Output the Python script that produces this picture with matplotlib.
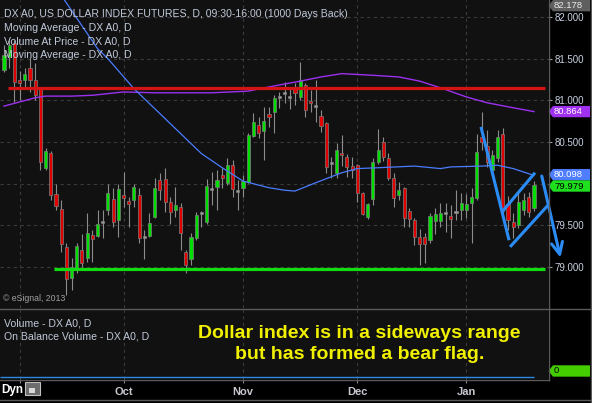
import numpy as np
import matplotlib
matplotlib.use("Agg")
import matplotlib.pyplot as plt
from matplotlib.lines import Line2D
from matplotlib.patches import Polygon, Rectangle
from matplotlib.ticker import FormatStrFormatter
from matplotlib.transforms import blended_transform_factory

plt.rcParams['font.family'] = ['Liberation Sans', 'DejaVu Sans']

############
# DX A0 daily candles, one entry per trading day
opens = [81.36, 81.52, 81.69, 81.24, 81.24, 81.39, 81.24, 81.15, 80.19, 80.37,
         79.87, 79.70, 79.24, 78.87, 78.98, 79.20, 79.11, 79.38, 79.37, 79.54,
         79.68, 79.81, 79.56, 79.86, 79.79, 79.80, 79.86, 79.36, 79.37, 79.60,
         80.04, 80.05, 79.78, 79.68, 79.72, 79.18, 79.09, 79.35, 79.65, 79.54,
         79.93, 79.96, 80.10, 80.01, 80.22, 79.91, 79.95, 80.02, 80.57, 80.70,
         80.63, 80.84, 80.86, 81.04, 81.09, 81.04, 81.15, 81.04, 81.18, 80.99,
         80.93, 80.81, 80.73, 80.25, 80.13, 80.37, 80.32, 80.21, 80.22, 79.89,
         79.60, 79.81, 80.26, 80.50, 80.31, 80.07, 79.86, 79.95, 79.67, 79.56,
         79.36, 79.36, 79.32, 79.55, 79.55, 79.65, 79.61, 79.66, 79.68, 79.68,
         79.77, 79.83, 80.56, 80.45, 80.16, 80.31, 80.60, 79.75, 79.54, 79.50,
         79.68, 79.84, 79.71]
highs = [81.66, 81.72, 81.72, 81.35, 81.39, 81.52, 81.45, 81.15, 80.43, 80.39,
         80.00, 79.80, 79.29, 79.11, 79.29, 79.40, 79.65, 79.44, 79.68, 79.68,
         80.00, 79.95, 79.99, 80.14, 79.84, 79.99, 79.95, 79.44, 79.65, 80.07,
         80.13, 80.19, 79.84, 79.96, 79.77, 79.20, 79.41, 79.66, 79.67, 80.06,
         80.14, 80.16, 80.19, 80.31, 80.28, 80.04, 80.10, 80.61, 80.85, 80.80,
         80.92, 80.92, 81.06, 81.10, 81.22, 81.16, 81.21, 81.46, 81.21, 81.12,
         81.24, 80.88, 80.74, 80.32, 80.49, 80.58, 80.36, 80.32, 80.24, 79.90,
         79.77, 80.31, 80.66, 80.56, 80.37, 80.13, 80.02, 79.96, 79.71, 79.59,
         79.45, 79.41, 79.65, 79.71, 79.77, 79.77, 79.74, 79.92, 79.89, 79.87,
         79.95, 80.60, 80.86, 80.64, 80.40, 80.64, 80.67, 79.85, 79.65, 79.90,
         79.89, 79.90, 80.03]
lows = [81.34, 81.39, 80.98, 81.00, 81.15, 81.10, 81.00, 80.16, 80.16, 79.80,
        79.68, 79.18, 78.66, 78.72, 78.93, 79.00, 79.06, 79.06, 79.36, 79.35,
        79.62, 79.48, 79.36, 79.72, 79.48, 79.72, 79.29, 79.09, 79.36, 79.59,
        79.80, 79.66, 79.51, 79.60, 79.20, 78.93, 79.02, 79.32, 79.48, 79.51,
        79.74, 79.68, 79.95, 79.98, 79.84, 79.68, 79.84, 80.01, 80.56, 80.55,
        80.28, 80.68, 80.61, 80.91, 80.97, 80.90, 80.94, 81.00, 80.80, 80.86,
        80.74, 80.62, 80.13, 80.07, 80.07, 80.21, 80.08, 80.07, 79.78, 79.62,
        79.57, 79.74, 80.24, 80.27, 80.04, 79.72, 79.80, 79.48, 79.48, 79.26,
        79.02, 79.05, 79.29, 79.40, 79.48, 79.42, 79.35, 79.56, 79.56, 79.59,
        79.29, 79.80, 80.40, 80.20, 80.14, 80.26, 79.63, 79.44, 79.35, 79.47,
        79.62, 79.60, 79.67]
closes = [81.54, 81.66, 81.22, 81.21, 81.32, 81.24, 81.06, 80.26, 80.39, 79.86,
          79.73, 79.28, 78.85, 79.00, 79.25, 79.05, 79.41, 79.33, 79.51, 79.54,
          79.89, 79.54, 79.93, 79.83, 79.75, 79.96, 79.35, 79.36, 79.53, 79.95,
          79.92, 79.78, 79.66, 79.74, 79.41, 79.02, 79.36, 79.62, 79.65, 79.97,
          79.93, 80.04, 80.07, 80.22, 79.93, 79.91, 80.03, 80.58, 80.74, 80.61,
          80.75, 80.80, 81.03, 81.04, 81.09, 81.04, 81.09, 81.24, 80.88, 80.97,
          80.93, 80.69, 80.20, 80.25, 80.40, 80.34, 80.20, 80.16, 79.89, 79.64,
          79.76, 80.26, 80.40, 80.32, 80.07, 79.83, 79.92, 79.59, 79.57, 79.36,
          79.27, 79.27, 79.61, 79.64, 79.65, 79.65, 79.57, 79.66, 79.77, 79.76,
          79.84, 80.38, 80.50, 80.26, 80.34, 80.56, 79.67, 79.56, 79.48, 79.78,
          79.80, 79.66, 79.979]

# first trading day of each month (index) and axis labels
month_idx = [3, 23, 46, 68, 89]
month_lbl = ['', 'Oct', 'Nov', 'Dec', 'Jan']

# the two moving averages, read at a handful of days
ma_slow_idx = [0, 3, 6, 8, 13, 17, 23, 29, 35, 40, 47, 51, 57, 61, 65, 71, 76, 80, 84, 89, 93, 98, 102]
ma_slow_val = [80.93, 80.98, 81.03, 81.05, 81.05, 81.06, 81.10, 81.09, 81.09, 81.09, 81.11, 81.16,
               81.23, 81.28, 81.32, 81.30, 81.28, 81.23, 81.15, 81.04, 80.97, 80.91, 80.864]
ma_fast_idx = [10, 12, 18, 20, 25, 29, 34, 38, 42, 46, 51, 54, 56, 60, 65, 68, 72, 79, 84, 86, 92, 95, 98, 102]
ma_fast_val = [82.35, 82.17, 81.62, 81.50, 81.14, 80.90, 80.60, 80.36, 80.19, 80.03, 79.95, 79.92,
               79.91, 80.01, 80.13, 80.18, 80.19, 80.21, 80.18, 80.20, 80.21, 80.22, 80.18, 80.098]

# drawn support / resistance
resistance = 81.144
support = 78.975

# bear flag sketch
pole_idx, pole_val = [91.8, 97.2], [80.68, 79.32]
flag_top_idx, flag_top_val = [96.0, 102.2], [79.67, 80.13]
flag_bot_idx, flag_bot_val = [97.4, 104.7], [79.24, 79.74]
arrow_from = (103.5, 80.09)
arrow_to = (107.1, 79.11)

price_ticks = [79.0, 79.5, 80.0, 80.5, 81.0, 81.5, 82.0]
last_high = 82.178
obv_last = 0
############

W, H = 592, 403


def fx(px):
    return px / W


def fy(py):
    return 1 - py / H


fig = plt.figure(figsize=(W / 100, H / 100), dpi=100, facecolor='black')
ax = fig.add_axes([0, fy(308), fx(548), 308 / H])
ax2 = fig.add_axes([0, fy(379), fx(548), 71 / H])

grid_kw = dict(color='#3a3a3a', ls=(0, (3, 3)), lw=0.8)
for a in (ax, ax2):
    a.set_facecolor('#111111')
    for s in a.spines.values():
        s.set_visible(False)
    a.set_xlim(-0.77, 104.7)
    a.set_xticks(month_idx)
    a.grid(True, axis='x', **grid_kw)
    a.set_axisbelow(True)

# candles
idx = np.arange(len(opens))
o, h, l, c = (np.array(v) for v in (opens, highs, lows, closes))
col = np.where(c > o, '#00dd00', np.where(c < o, '#e00000', '#a0a0a0'))
body_h = np.maximum(np.abs(c - o), 0.025)
body_lo = (o + c) / 2 - body_h / 2
ax.vlines(idx, l, h, color='#8c8c8c', lw=0.8, zorder=2)
ax.bar(idx, body_h, bottom=body_lo, width=0.6, color=col, edgecolor='#7d7d7d', lw=0.5, zorder=3)

ax.plot(ma_slow_idx, ma_slow_val, color='#9b30f0', lw=1.0, zorder=4)
ax.plot(ma_fast_idx, ma_fast_val, color='#4a7cff', lw=0.9, zorder=4)

ax.hlines(resistance, 0.8, 104.1, color='#d41414', lw=2.3, zorder=5)
ax.hlines(support, 9.6, 104.1, color='#10dd10', lw=2.3, zorder=5)

flag_col = '#2b8cf5'
for xs, ys in ((pole_idx, pole_val), (flag_top_idx, flag_top_val), (flag_bot_idx, flag_bot_val)):
    ax.plot(xs, ys, color=flag_col, lw=2.2, clip_on=False, solid_capstyle='butt', zorder=6)
ax.annotate('', xy=arrow_to, xytext=arrow_from, annotation_clip=False, zorder=6,
            arrowprops=dict(arrowstyle='->,head_length=0.85,head_width=0.4', color=flag_col,
                            lw=2.2, shrinkA=0, shrinkB=0, clip_on=False))

ax.set_ylim(78.506, 82.204)
ax.grid(True, axis='y', **grid_kw)
ax.yaxis.tick_right()
ax.set_yticks(price_ticks)
ax.yaxis.set_major_formatter(FormatStrFormatter('%.3f'))
ax.tick_params(axis='y', length=3, width=0.8, color='#9a9a9a', pad=1.5, labelsize=7, labelcolor='#c8d0e0')
ax.tick_params(axis='x', length=0, labelbottom=False)

# lower panel (on balance volume)
ax2.set_ylim(-0.03, 1)
ax2.set_yticks([])
ax2.hlines(obv_last, -0.77, idx[-1], color='#2a8ae0', lw=1.0)
ax2.set_xticklabels(month_lbl, fontsize=8, fontweight='bold', color='#c8c8d0')
ax2.tick_params(axis='x', length=3, width=0.8, color='#8a8a8a', pad=3)


def tag(a, yc, half, txt, fc, tc, ytrans):
    tr = blended_transform_factory(a.transAxes, ytrans)
    x0, x1, x2 = 548.5 / 548, 553 / 548, 590 / 548
    pts = [(x0, yc), (x1, yc + half), (x2, yc + half), (x2, yc - half), (x1, yc - half)]
    a.add_patch(Polygon(pts, closed=True, transform=tr, facecolor=fc, edgecolor='none',
                        clip_on=False, zorder=10))
    a.text(554 / 548, yc, txt, transform=tr, color=tc, fontsize=6.8, va='center', ha='left',
           clip_on=False, zorder=11)


# price tags on the right scale, nudged apart where they would collide
half = 0.068
top = ax.get_ylim()[1]
tags = [(last_high, '#5f5f5f', '#ececec'),
        (ma_slow_val[-1], '#a030f0', 'white'),
        (ma_fast_val[-1], '#4f7dff', 'white'),
        (closes[-1], '#1fe01f', 'black')]
centers = [min(v, top - half) for v, _, _ in tags]
for k in range(1, len(centers)):
    gap = centers[k - 1] - centers[k]
    if gap < 2 * half:
        d = (2 * half - gap) / 2
        centers[k - 1] += d
        centers[k] -= d
for yc, (v, fc, tc) in zip(centers, tags):
    tag(ax, yc, half, '%.3f' % v, fc, tc, ax.transData)
tag(ax2, 0.113, 0.08, '%d' % obv_last, '#44cc00', 'black', ax2.transAxes)

# scale labels that sit underneath a tag are hidden, as on the original
fig.canvas.draw()
for t, lab in zip(price_ticks, ax.get_yticklabels()):
    if any(abs(t - yc) < half + 0.03 for yc in centers):
        lab.set_visible(False)

# texts
txt_col = '#c0c8d8'
legend_lines = ['DX A0, US DOLLAR INDEX FUTURES, D, 09:30-16:00 (1000 Days Back)',
                'Moving Average - DX A0, D',
                'Volume At Price - DX A0, D',
                'Moving Average - DX A0, D']
for k, s in enumerate(legend_lines):
    fig.text(fx(4), fy(17.3 + 13.7 * k), s, color=txt_col, fontsize=7.6, va='baseline', zorder=20)
fig.text(fx(3), fy(301), '\u00a9 eSignal, 2013', color='#a0a0a0', fontsize=6.3, va='baseline')
fig.text(fx(4), fy(326), 'Volume - DX A0, D', color=txt_col, fontsize=7.6, va='baseline')
fig.text(fx(4), fy(339.5), 'On Balance Volume - DX A0, D', color=txt_col, fontsize=7.6, va='baseline')

fig.text(fx(359), fy(337.5), 'Dollar index is in a sideways range', color='#f0f000',
         fontsize=14, fontweight='bold', ha='center', va='baseline')
fig.text(fx(360), fy(359), 'but has formed a bear flag.', color='#f0f000',
         fontsize=14, fontweight='bold', ha='center', va='baseline')

fig.text(fx(1), fy(393), 'Dyn', color='white', fontsize=8.5, fontweight='bold', va='baseline')
fig.add_artist(Rectangle((fx(25), fy(395)), fx(14.5), 13 / H, transform=fig.transFigure,
                         facecolor='#6c6c6c', edgecolor='#c0c0c0', lw=0.8))
fig.add_artist(Rectangle((fx(29), fy(393)), fx(6), 5 / H, transform=fig.transFigure,
                         facecolor='#d8d8d8', edgecolor='none'))

# panel borders
sep = dict(color='#5a5a5a', lw=1.0, transform=fig.transFigure)
fig.add_artist(Line2D([0, fx(592)], [fy(308.5)] * 2, **sep))
fig.add_artist(Line2D([fx(548.5)] * 2, [fy(0), fy(379.5)], **sep))
fig.add_artist(Line2D([0, fx(548.5)], [fy(379.5)] * 2, **sep))
fig.add_artist(Line2D([0, 1], [fy(399.5)] * 2, **sep))
fig.add_artist(Line2D([fx(590.5)] * 2, [0, 1], **sep))

fig.savefig('out.png', dpi=100, facecolor='black')
plt.close(fig)
